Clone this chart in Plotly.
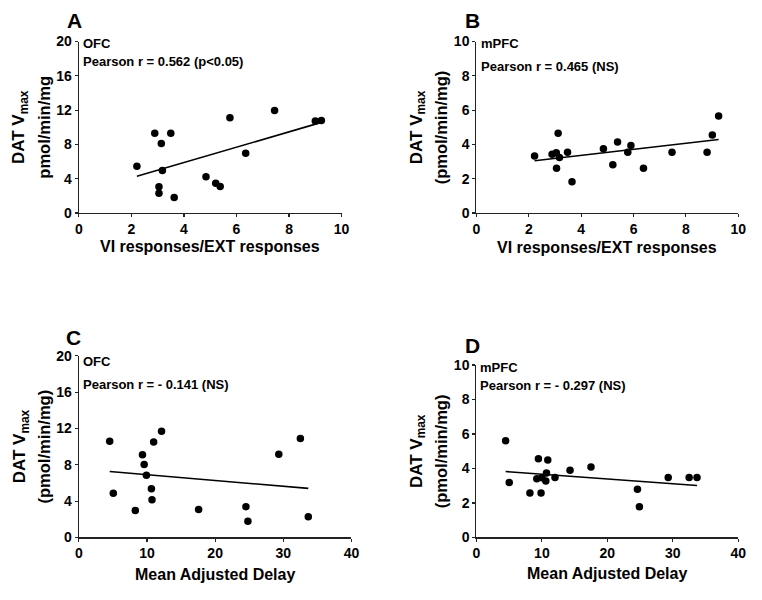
import numpy as np
import plotly.graph_objects as go

# ---------------- data ----------------
# Panel A: OFC, VI/EXT ratio vs DAT Vmax
a_x = [2.21, 2.89, 3.50, 3.14, 3.18, 3.05, 3.05, 3.63, 4.84, 5.21, 5.38, 5.75, 6.35, 7.45, 9.00, 9.23]
a_y = [5.45, 9.31, 9.31, 8.10, 4.96, 3.07, 2.31, 1.82, 4.24, 3.48, 3.10, 11.12, 6.97, 11.96, 10.75, 10.79]
# Panel B: mPFC, VI/EXT ratio vs DAT Vmax
b_x = [2.22, 2.89, 3.05, 3.12, 3.06, 3.17, 3.48, 3.65, 4.85, 5.21, 5.39, 5.78, 5.90, 6.38, 7.47, 8.81, 9.01, 9.25]
b_y = [3.33, 3.43, 3.52, 4.65, 2.61, 3.24, 3.54, 1.82, 3.75, 2.82, 4.14, 3.54, 3.94, 2.61, 3.54, 3.54, 4.56, 5.66]
# Panel C: OFC, mean adjusted delay vs DAT Vmax
c_x = [4.53, 5.06, 8.29, 9.34, 9.59, 9.92, 10.65, 10.74, 10.98, 12.14, 17.58, 24.52, 24.81, 29.34, 32.51, 33.67]
c_y = [10.58, 4.86, 2.97, 9.11, 8.04, 6.86, 5.36, 4.15, 10.50, 11.70, 3.07, 3.39, 1.79, 9.15, 10.90, 2.29]
# Panel D: mPFC, mean adjusted delay vs DAT Vmax
d_x = [4.46, 5.01, 8.17, 9.22, 9.47, 9.87, 10.0, 10.6, 10.7, 10.9, 12.0, 14.3, 17.5, 24.6, 24.9, 29.3, 32.5, 33.7]
d_y = [5.60, 3.18, 2.58, 3.41, 4.57, 2.58, 3.46, 3.28, 3.73, 4.49, 3.48, 3.90, 4.08, 2.79, 1.78, 3.48, 3.48, 3.48]

panel_letters = ["A", "B", "C", "D"]
regions = ["OFC", "mPFC", "OFC", "mPFC"]
pearson_texts = ["Pearson r = 0.562 (p<0.05)", "Pearson r = 0.465 (NS)",
                 "Pearson r = - 0.141 (NS)", "Pearson r = - 0.297 (NS)"]
x_titles = ["VI responses/EXT responses", "VI responses/EXT responses",
            "Mean Adjusted Delay", "Mean Adjusted Delay"]
y_title_line1 = "DAT V<sub>max</sub>"
y_title_line2 = ["pmol/min/mg", "(pmol/min/mg)", "(pmol/min/mg)", "(pmol/min/mg)"]
x_ranges = [(0, 10, 2), (0, 10, 2), (0, 40, 10), (0, 40, 10)]
y_ranges = [(0, 20, 4), (0, 10, 2), (0, 20, 4), (0, 10, 2)]

# ---------------- layout geometry (pixels) ----------------
W, H = 762, 600
FONT = "Liberation Sans, Arial, Helvetica, sans-serif"
# plot boxes: (left, right, top, bottom) in px
boxes = [(76, 343, 34.5, 210.7), (480, 746, 34.5, 210.7),
         (76, 353, 357.3, 544), (480, 746, 366.7, 544)]
letter_pos = [(62, 13), (466, 13), (61, 339), (466, 346.5)]
region_pos = [(78, 36), (483, 36), (78, 363.5), (482, 369)]
pearson_pos = [(78, 55), (483, 60), (78, 386.5), (482, 387.5)]
xtitle_pos = [(209, 245), (613, 246), (214.5, 582), (613, 581)]
ytitle_x = [(17, 41), (420.5, 444), (17, 40.5), (420.5, 444)]


def px(x):
    return x / W


def py(y):
    return 1 - y / H


series = [(a_x, a_y), (b_x, b_y), (c_x, c_y), (d_x, d_y)]

fig = go.Figure()
annotations = []
layout_axes = {}

for i, (xs, ys) in enumerate(series):
    n = "" if i == 0 else str(i + 1)
    xa, ya = "x" + n, "y" + n
    # scatter points
    fig.add_trace(go.Scatter(x=xs, y=ys, mode="markers", xaxis=xa, yaxis=ya,
                             marker=dict(size=7.5, color="black"), showlegend=False,
                             cliponaxis=False, hoverinfo="skip"))
    # linear regression line
    slope, intercept = np.polyfit(xs, ys, 1)
    lx = np.array([min(xs), max(xs)])
    fig.add_trace(go.Scatter(x=lx, y=slope * lx + intercept, mode="lines", xaxis=xa, yaxis=ya,
                             line=dict(color="black", width=1.6), showlegend=False,
                             hoverinfo="skip"))

    l, r, t, b = boxes[i]
    x0, x1, xd = x_ranges[i]
    y0, y1, yd = y_ranges[i]
    axis_common = dict(showgrid=False, zeroline=False, showline=True, linecolor="#222",
                       linewidth=1.2, ticks="outside", ticklen=3, tickwidth=1.2, tickcolor="#222",
                       tickfont=dict(family=FONT, size=14, color="black", weight="bold"))
    layout_axes["xaxis" + n] = dict(axis_common, domain=[px(l), px(r)], range=[x0, x1],
                                    tick0=0, dtick=xd, anchor=ya, fixedrange=True)
    layout_axes["yaxis" + n] = dict(axis_common, domain=[py(b), py(t)], range=[y0, y1],
                                    tick0=0, dtick=yd, anchor=xa, fixedrange=True)

    # panel letter
    annotations.append(dict(text=panel_letters[i], x=px(letter_pos[i][0]), y=py(letter_pos[i][1]),
                            xref="paper", yref="paper", xanchor="left", yanchor="middle",
                            showarrow=False, font=dict(family=FONT, size=21, color="black", weight="bold")))
    annotations.append(dict(text=regions[i], x=px(region_pos[i][0]), y=py(region_pos[i][1]),
                            xref="paper", yref="paper", xanchor="left", yanchor="middle",
                            showarrow=False, font=dict(family=FONT, size=13, color="black", weight="bold")))
    annotations.append(dict(text=pearson_texts[i], x=px(pearson_pos[i][0]), y=py(pearson_pos[i][1]),
                            xref="paper", yref="paper", xanchor="left", yanchor="middle",
                            showarrow=False, font=dict(family=FONT, size=13, color="black", weight="bold")))
    annotations.append(dict(text=x_titles[i], x=px(xtitle_pos[i][0]), y=py(xtitle_pos[i][1]),
                            xref="paper", yref="paper", xanchor="center", yanchor="middle",
                            showarrow=False, font=dict(family=FONT, size=16, color="black", weight="bold")))
    ymid = (t + b) / 2
    annotations.append(dict(text=y_title_line1, x=px(ytitle_x[i][0]), y=py(ymid),
                            xref="paper", yref="paper", xanchor="center", yanchor="middle",
                            textangle=-90, showarrow=False,
                            font=dict(family=FONT, size=17, color="black", weight="bold")))
    annotations.append(dict(text=y_title_line2[i], x=px(ytitle_x[i][1]), y=py(ymid),
                            xref="paper", yref="paper", xanchor="center", yanchor="middle",
                            textangle=-90, showarrow=False,
                            font=dict(family=FONT, size=16.5, color="black", weight="bold")))

fig.update_layout(width=W, height=H, margin=dict(l=0, r=0, t=0, b=0),
                  paper_bgcolor="white", plot_bgcolor="white", hovermode=False,
                  annotations=annotations, **layout_axes)

fig.write_html("out.html", config={"displayModeBar": False, "staticPlot": True},
               post_script="document.body.style.margin='0';document.body.style.overflow='hidden';")
